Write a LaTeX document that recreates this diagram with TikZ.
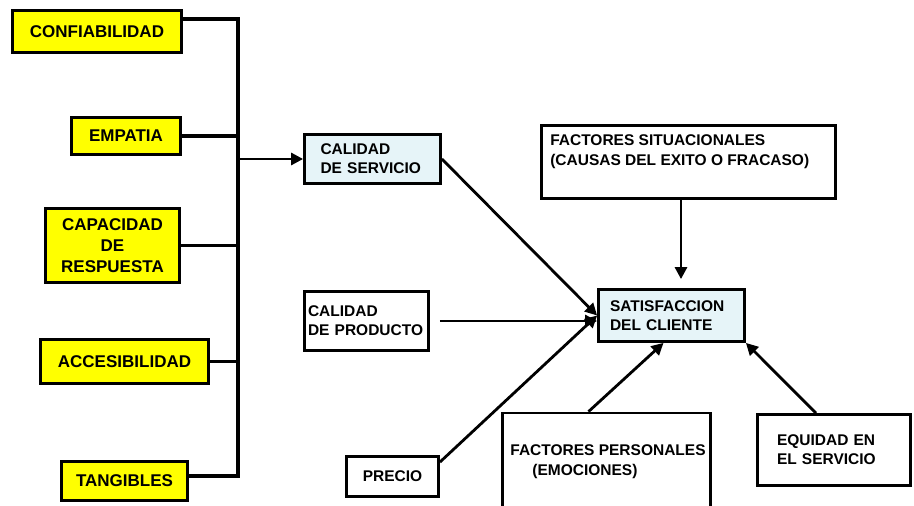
\documentclass[tikz,border=0pt]{standalone}
\usepackage{fontspec}
\setmainfont{Liberation Sans}
\usepackage{tikz}
\usetikzlibrary{arrows.meta,positioning}
\definecolor{amarillo}{RGB}{255,255,0}
\definecolor{celeste}{RGB}{230,244,248}

\begin{document}
\begin{tikzpicture}[x=1pt,y=-1pt,
  dim/.style={rectangle,draw=black,line width=3.2pt,fill=amarillo,inner sep=0pt,
              align=center,font=\fontsize{17}{21}\selectfont\bfseries},
  caja/.style={rectangle,draw=black,line width=2.8pt,fill=white,inner sep=0pt,
               align=left,font=\fontsize{15.5}{19}\selectfont\bfseries},
  txt/.style={inner sep=0pt,align=left,font=\fontsize{15.5}{20}\selectfont\bfseries},
  conn/.style={line width=3.2pt},
  arr/.style={-{Triangle[length=12pt,width=12pt]},line width=2.8pt}
]
  \useasboundingbox (0,0) rectangle (914,506);
  \clip (0,0) rectangle (914,506);

  \node[dim,minimum width=169pt,minimum height=42pt] (conf) at (97,31.5)    {CONFIABILIDAD};
  \node[dim,minimum width=109pt,minimum height=37pt] (emp)  at (126,136)    {EMPATIA};
  \node[dim,minimum width=134pt,minimum height=74pt] (cap)  at (112.5,245.5) {CAPACIDAD\\DE\\RESPUESTA};
  \node[dim,minimum width=168pt,minimum height=44pt] (acc)  at (124.5,361.5) {ACCESIBILIDAD};
  \node[dim,minimum width=126pt,minimum height=39pt] (tang) at (124.5,481)  {TANGIBLES};

  \coordinate (btop) at (238,19);
  \coordinate (bbot) at (238,476);
  \draw[conn] (conf.east |- btop) -- (btop) -- (bbot) -- (tang.east |- bbot);
  \foreach \n in {emp,cap,acc}
    \draw[conn] (\n.east) -- (\n.east -| btop);

  \node[caja,fill=celeste,minimum width=136pt,minimum height=49pt,text width=104pt] (serv) at (372.5,159) {CALIDAD\\DE SERVICIO};
  \node[caja,minimum width=124pt,minimum height=59pt,text width=117pt] (prod) at (366.5,321) {CALIDAD\\DE PRODUCTO};
  \node[caja,minimum width=92pt,minimum height=40pt,align=center] (prec) at (392.5,476.5) {PRECIO};
  \node[caja,fill=celeste,minimum width=146pt,minimum height=52pt,text width=123pt] (sat) at (671.5,315.5) {SATISFACCION\\DEL CLIENTE};
  \node[caja,minimum width=294pt,minimum height=73pt] (sit) at (688.5,162) {};
  \node[txt,anchor=north west] (sittxt) at ([shift={(10pt,-10pt)}]sit.north west) {FACTORES SITUACIONALES\\(CAUSAS DEL EXITO O FRACASO)};
  \node[caja,minimum width=208pt,minimum height=130pt] (pers) at (606.5,478) {};
  \node[txt] (perstxt) at (608,462) {FACTORES PERSONALES\\\hspace*{22pt}(EMOCIONES)};
  \node[caja,minimum width=153pt,minimum height=71pt,text width=114pt] (equ) at (834,450) {EQUIDAD EN\\EL SERVICIO};

  \coordinate (sitx) at (681,0);
  \draw[arr] (btop |- serv.west) -- (serv.west);
  \draw[arr] (serv.east) -- (sat.west);
  \draw[arr,shorten <=10pt] (prod.east) -- (prod.east -| sat.west);
  \draw[arr] ([yshift=-7pt]prec.north east) -- (sat.west);
  \draw[arr,shorten >=9pt] (sitx |- sit.south) -- (sitx |- sat.north);
  \draw[arr] ([xshift=-18pt]pers.north) -- ([xshift=-8pt]sat.south);
  \draw[arr] ([xshift=-18pt]equ.north) -- (sat.south east);
\end{tikzpicture}
\end{document}
